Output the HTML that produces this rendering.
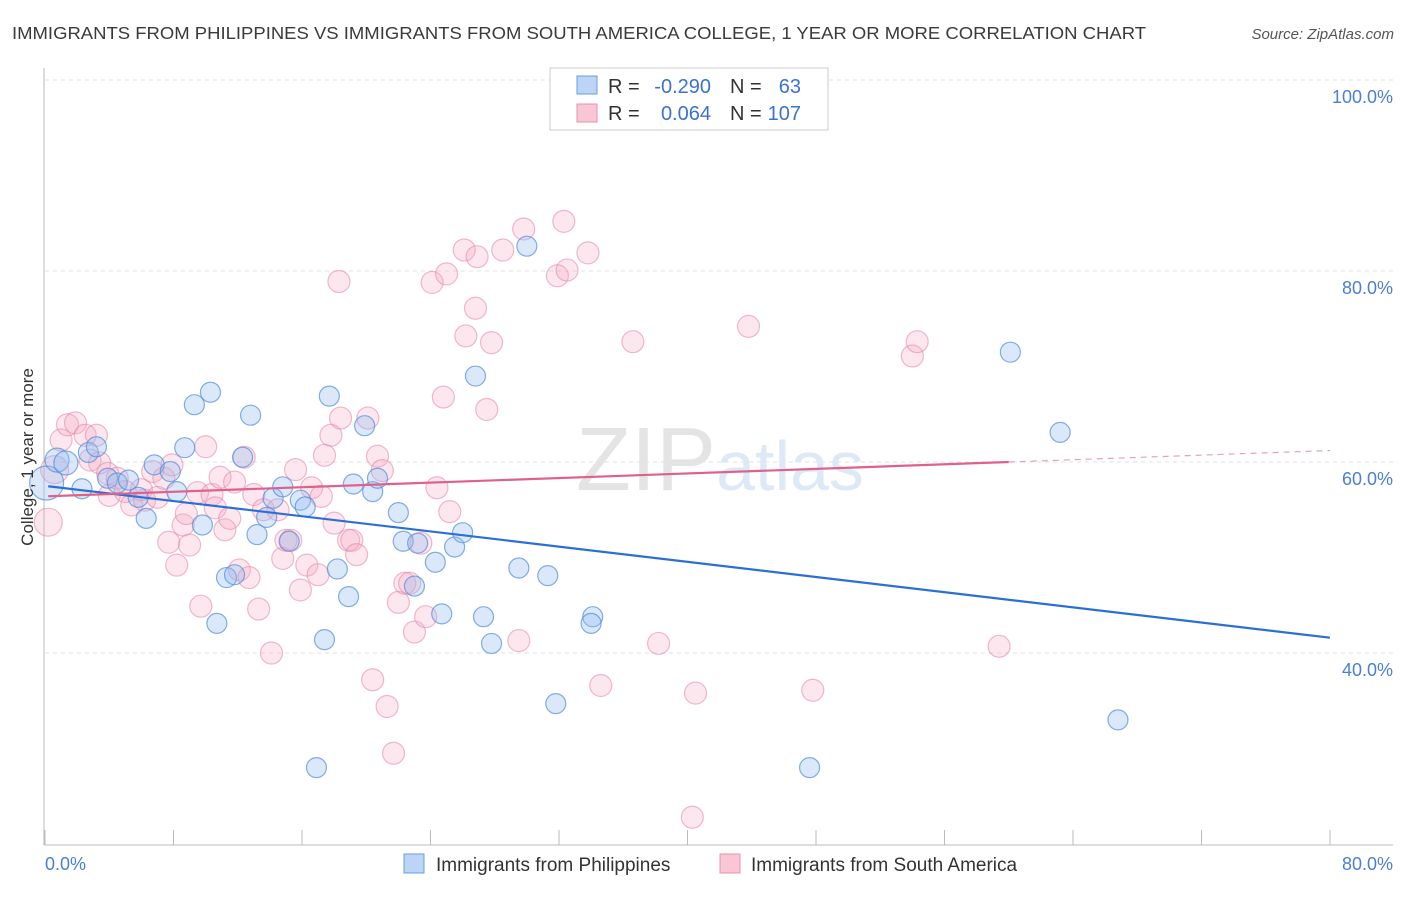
<!DOCTYPE html>
<html><head><meta charset="utf-8">
<style>
body{margin:0;background:#fff;font-family:"Liberation Sans",sans-serif;}
svg text{font-family:"Liberation Sans",sans-serif;}
</style></head>
<body>
<svg id="chart" width="1406" height="892" xmlns="http://www.w3.org/2000/svg">
<text x="12" y="39" font-size="17.5" fill="#3a3a3a" textLength="1134" lengthAdjust="spacingAndGlyphs">IMMIGRANTS FROM PHILIPPINES VS IMMIGRANTS FROM SOUTH AMERICA COLLEGE, 1 YEAR OR MORE CORRELATION CHART</text>
<text x="1394" y="39" font-size="15" fill="#555" font-style="italic" text-anchor="end">Source: ZipAtlas.com</text>
<g id="grid"></g>
<text x="720" y="490" font-size="90" text-anchor="middle" fill="#ebebeb" font-family="Liberation Serif"><tspan fill="#e4e4e4">ZIP</tspan><tspan fill="#dde9f6" font-family="Liberation Sans" font-size="70">atlas</tspan></text>
<g id="points"></g>
<g id="lines"></g>
<text transform="translate(33,457) rotate(-90)" font-size="17" fill="#333" text-anchor="middle">College, 1 year or more</text>
<text x="45" y="870" font-size="18" fill="#4a7fd4">0.0%</text>
<text x="1393" y="870" font-size="18" fill="#4a7fd4" text-anchor="end">80.0%</text>
<g>
<rect x="550" y="68" width="278" height="62" fill="#fff" stroke="#ccc"/>
<rect x="577" y="76" width="20" height="18" fill="#bcd4f5" stroke="#6a9ee0"/>
<rect x="577" y="104" width="20" height="18" fill="#f9c6d5" stroke="#e890aa"/>
<text x="608" y="93" font-size="20" fill="#333">R =</text>
<text x="711" y="93" font-size="20" fill="#3a72d4" text-anchor="end">-0.290</text>
<text x="730" y="93" font-size="20" fill="#333">N =</text>
<text x="801" y="93" font-size="20" fill="#3a72d4" text-anchor="end">63</text>
<text x="608" y="120" font-size="20" fill="#333">R =</text>
<text x="711" y="120" font-size="20" fill="#3a72d4" text-anchor="end">0.064</text>
<text x="730" y="120" font-size="20" fill="#333">N =</text>
<text x="801" y="120" font-size="20" fill="#3a72d4" text-anchor="end">107</text>
</g>
<g>
<rect x="404" y="854" width="20" height="19" fill="#bcd4f5" stroke="#6a9ee0"/>
<text x="436" y="871" font-size="19" fill="#333">Immigrants from Philippines</text>
<rect x="720" y="854" width="20" height="19" fill="#f9c6d5" stroke="#e890aa"/>
<text x="751" y="871" font-size="19" fill="#333">Immigrants from South America</text>
</g>
</svg>
<script>
const yTicks=[40,60,80,100];
const yTickLabels=["40.0%","60.0%","80.0%","100.0%"];
const xTicks=[0,8,16,24,32,40,48,56,64,72,80];
const blueX=[0.1,0.75,1.3,2.3,2.7,3.2,3.9,4.5,5.2,5.8,6.3,6.8,7.8,8.2,8.7,9.3,9.8,10.3,10.7,11.3,11.8,12.3,12.8,13.2,13.8,14.2,14.8,15.2,15.9,16.2,16.9,17.4,17.7,18.2,18.9,19.2,19.9,20.4,20.7,22.0,22.3,23.2,23.0,24.3,24.7,25.5,26.0,26.8,27.3,27.8,29.5,30.0,31.3,31.8,34.1,34.0,47.6,60.1,63.2,66.8];
const blueY=[57.8,60.2,59.9,57.2,61.0,61.6,58.3,57.8,58.1,56.3,54.1,59.7,59.0,56.9,61.5,66.0,53.4,67.3,43.1,47.9,48.2,60.5,64.9,52.4,54.2,56.2,57.4,51.7,56.0,55.3,28.0,41.4,66.9,48.8,45.9,57.7,63.8,56.9,58.3,54.7,51.7,51.5,47.0,49.5,44.1,51.1,52.6,69.0,43.8,41.0,48.9,82.6,48.1,34.7,43.8,43.1,28.0,71.5,63.1,33.0];
const pinkX=[0.2,0.6,1.0,1.4,1.9,2.5,2.8,3.2,3.4,3.9,4.0,4.5,5.0,5.4,6.0,6.2,6.7,7.0,7.4,7.7,7.9,8.2,8.6,8.8,9.0,9.5,9.7,10.0,10.4,10.6,10.9,11.2,11.5,11.8,12.1,12.4,12.7,13.0,13.3,13.6,14.1,14.5,14.8,15.0,15.3,15.6,15.9,16.3,16.6,17.0,17.2,17.4,17.8,18.0,18.3,18.4,18.9,19.1,19.4,20.1,20.4,20.7,21.0,21.3,21.7,22.0,22.4,22.7,23.0,23.4,23.7,24.1,24.4,24.8,25.0,25.2,26.1,26.2,26.8,26.9,27.5,27.8,28.5,29.5,29.8,31.9,32.3,32.5,33.8,34.6,36.6,38.2,40.3,40.5,43.8,47.8,54.0,54.3,59.4];
const pinkY=[53.7,59.2,62.3,63.9,64.1,62.8,60.2,62.8,59.9,58.8,56.5,58.3,56.9,55.5,57.1,56.0,59.0,56.3,58.3,51.6,59.7,49.2,53.4,54.6,51.3,56.8,44.9,61.6,56.6,55.2,58.4,52.9,54.1,57.9,48.7,60.5,47.9,56.6,44.6,55.0,40.0,55.0,49.9,51.8,51.8,59.2,46.6,49.2,57.3,48.2,56.4,60.7,62.8,53.6,78.9,64.6,51.8,51.8,50.3,64.6,37.2,60.6,59.1,34.4,29.5,45.3,47.3,47.3,42.2,51.5,43.8,78.8,57.3,66.8,79.7,54.8,82.2,73.2,76.1,81.5,65.5,72.5,82.2,41.3,84.4,79.5,85.2,80.1,81.9,36.6,72.6,41.0,22.8,35.8,74.2,36.1,71.1,72.6,40.7];
const blueTrend=[57.5,41.6];
const pinkTrend=[56.4,61.2];

const NS="http://www.w3.org/2000/svg";
const X=v=>45+v*(1330-45)/80;
const Y=v=>80+(100-v)*9.55;
function mk(tag,attrs,parent){const e=document.createElementNS(NS,tag);for(const k in attrs)e.setAttribute(k,attrs[k]);parent.appendChild(e);return e;}
const grid=document.getElementById('grid');
yTicks.forEach((t,i)=>{
  const l=mk('line',{x1:45,x2:1393,y1:Y(t),y2:Y(t),stroke:'#e0e0e0','stroke-dasharray':'4,4'},grid);
  
  
  const tx=mk('text',{x:1393,y:Y(t)+23,'font-size':18,fill:'#4a7fd4','text-anchor':'end'},grid);
  tx.textContent=yTickLabels[i];
  
  
});
const ax=mk('line',{x1:44,x2:44,y1:68,y2:845,stroke:'#bbb'},grid);


const bx=mk('line',{x1:44,x2:1393,y1:845,y2:845,stroke:'#bbb'},grid);


xTicks.forEach(t=>{
  const l=mk('line',{x1:X(t),x2:X(t),y1:830,y2:845,stroke:'#bbb'},grid);
  
  
});
const pts=document.getElementById('points');
pinkX.forEach((x,i)=>{
  const r=(i<2)?14:11;
  const c=mk('circle',{cx:X(x),cy:Y(pinkY[i]),r:r,fill:'rgba(245,170,195,0.28)',stroke:'rgba(230,130,165,0.55)','stroke-width':1.2},pts);
  
  
});
blueX.forEach((x,i)=>{
  const r=(i===0)?17:(i<3?12:10);
  const c=mk('circle',{cx:X(x),cy:Y(blueY[i]),r:r,fill:'rgba(150,190,240,0.35)',stroke:'rgba(80,140,220,0.7)','stroke-width':1.2},pts);
  
  
});
const lines=document.getElementById('lines');
const bl=mk('line',{x1:X(0.2),y1:Y(blueTrend[0]+(blueTrend[1]-blueTrend[0])*0.2/80),x2:X(80),y2:Y(blueTrend[1]),stroke:'#2b6fd6','stroke-width':2.2},lines);


const pAt=x=>pinkTrend[0]+(pinkTrend[1]-pinkTrend[0])*x/80;
const pl=mk('line',{x1:X(0.2),y1:Y(pAt(0.2)),x2:X(60),y2:Y(pAt(60)),stroke:'#e0608a','stroke-width':2.2},lines);


const pd=mk('line',{x1:X(60),y1:Y(pAt(60)),x2:X(80),y2:Y(pAt(80)),stroke:'#e8a0b8','stroke-width':1.2,'stroke-dasharray':'6,5'},lines);


</script>
</body></html>
